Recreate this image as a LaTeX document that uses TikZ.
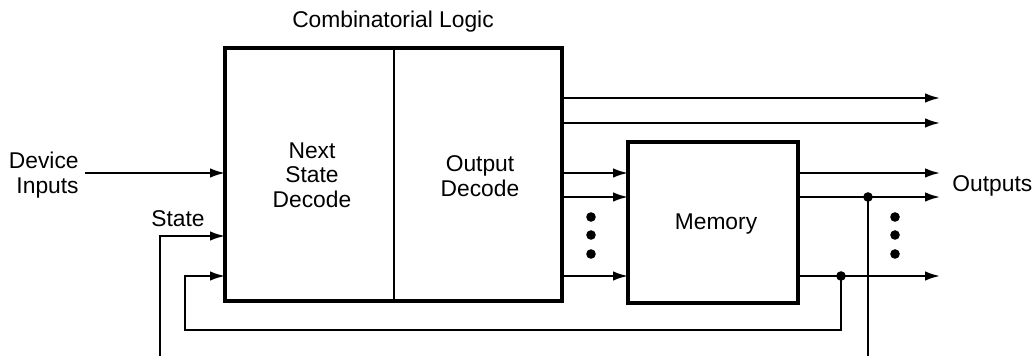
\documentclass[tikz,border=0pt]{standalone}
\usepackage{fontspec}
\setmainfont{Liberation Sans}
\usetikzlibrary{arrows.meta}
\begin{document}
\begin{tikzpicture}[x=0.5pt,y=-0.5pt,
  wire/.style={line width=1pt},
  arr/.style={wire,-{Latex[length=7.5pt,width=4.8pt]}},
  blk/.style={draw,line width=2.2pt,inner sep=0pt,outer sep=0pt},
  lbl/.style={font=\fontsize{11.4}{12.3}\selectfont,align=center,inner sep=0pt},
  dot/.style={circle,fill,inner sep=0pt,minimum size=4.8pt}]
\useasboundingbox (0,0) rectangle (1034,356);
% blocks
\node[blk,minimum width=168.5pt,minimum height=126.5pt] (cl) at (393.5,174.5) {};
\node[blk,minimum width=85pt,minimum height=80.5pt] (mem) at (713,222.5) {};
\draw[wire] (cl.north) -- (cl.south);
% labels
\node[lbl,anchor=base] (title) at (393,28) {Combinatorial Logic};
\node[lbl] (nsd) at (312,175) {Next\\State\\Decode};
\node[lbl] (od) at (480,176) {Output\\Decode};
\node[lbl] (memt) at (716,224) {Memory};
\node[lbl,align=right,anchor=east] (din) at (79,175) {Device\\Inputs};
\node[lbl,anchor=base] (st) at (178,227) {State};
\node[lbl,anchor=base west] (outs) at (952,192) {Outputs};
% coordinates
\coordinate (dinS) at (85,173);
\coordinate (stB) at (160,356);
\coordinate (stC) at (160,236);
\coordinate (fbA) at (185,276);
\coordinate (fbB) at (185,330);
\coordinate (fbC) at (841,330);
\coordinate (j2) at (841,276);
\coordinate (j1) at (868,197);
\coordinate (j1B) at (868,356);
\coordinate (o1) at (940,98);
\coordinate (o2) at (940,123);
\coordinate (o3) at (940,173);
\coordinate (o4) at (940,197);
\coordinate (o5) at (940,276);
% inputs to logic
\draw[arr] (dinS) -- (dinS -| cl.west);
\draw[arr] (stB) -- (stC) -- (stC -| cl.west);
\draw[arr] (j2) -- (fbC) -- (fbB) -- (fbA) -- (fbA -| cl.west);
% direct outputs
\draw[arr] (o1 -| cl.east) -- (o1);
\draw[arr] (o2 -| cl.east) -- (o2);
% logic to memory
\draw[arr] (o3 -| cl.east) -- (o3 -| mem.west);
\draw[arr] (o4 -| cl.east) -- (o4 -| mem.west);
\draw[arr] (o5 -| cl.east) -- (o5 -| mem.west);
% memory outputs
\draw[arr] (o3 -| mem.east) -- (o3);
\draw[arr] (o4 -| mem.east) -- (o4);
\draw[arr] (o5 -| mem.east) -- (o5);
\draw[wire] (j1) -- (j1B);
\node[dot] (dj1) at (j1) {};
\node[dot] (dj2) at (j2) {};
% ellipsis dots
\node[dot] (l1) at (591,217) {};
\node[dot] (l2) at (591,235) {};
\node[dot] (l3) at (591,254) {};
\node[dot] (r1) at (895,217) {};
\node[dot] (r2) at (895,235) {};
\node[dot] (r3) at (895,254) {};
\end{tikzpicture}
\end{document}
